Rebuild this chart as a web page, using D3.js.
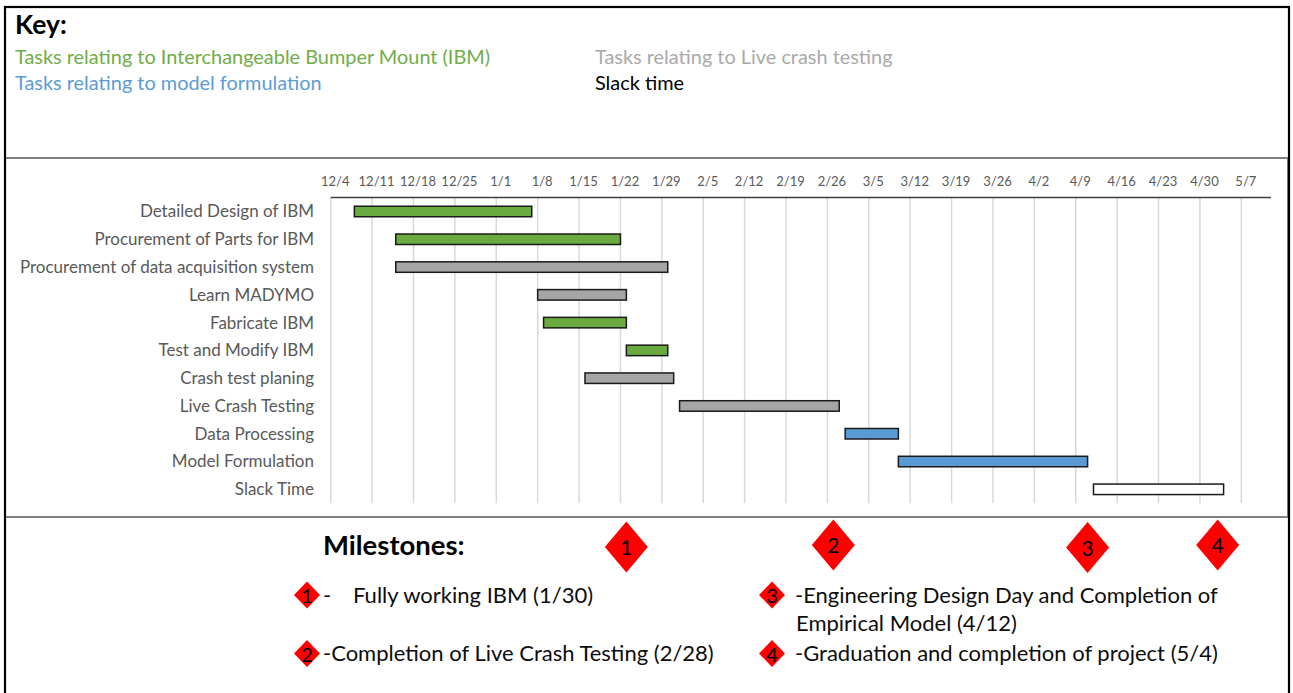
<!DOCTYPE html>
<html><head><meta charset="utf-8">
<script src="https://cdn.jsdelivr.net/npm/d3@7"></script>
<style>
body{margin:0;background:#fff}
svg{display:block;font-family:Lato, "Open Sans", sans-serif}
</style>
</head><body><svg id="c" width="1293" height="693"></svg>
<script>
// ---------- data ----------
const tasks = [
  "Detailed Design of IBM",
  "Procurement of Parts for IBM",
  "Procurement of data acquisition system",
  "Learn MADYMO",
  "Fabricate IBM",
  "Test and Modify IBM",
  "Crash test planing",
  "Live Crash Testing",
  "Data Processing",
  "Model Formulation",
  "Slack Time"
];
const taskStart = ["2017-12-08","2017-12-15","2017-12-15","2018-01-08","2018-01-09","2018-01-23","2018-01-16","2018-02-01","2018-03-01","2018-03-10","2018-04-12"];
const taskEnd   = ["2018-01-07","2018-01-22","2018-01-30","2018-01-23","2018-01-23","2018-01-30","2018-01-31","2018-02-28","2018-03-10","2018-04-11","2018-05-04"];
const taskGroup = ["ibm","ibm","crash","crash","ibm","ibm","crash","crash","model","model","slack"];
const tickLabels = ["12/4","12/11","12/18","12/25","1/1","1/8","1/15","1/22","1/29","2/5","2/12","2/19","2/26","3/5","3/12","3/19","3/26","4/2","4/9","4/16","4/23","4/30","5/7"];
const axisDomain = ["2017-12-04","2018-05-12"];
const keyGroups = ["ibm","model","crash","slack"];
const keyLabels = [
  "Tasks relating to Interchangeable Bumper Mount (IBM)",
  "Tasks relating to model formulation",
  "Tasks relating to Live crash testing",
  "Slack time"
];
const milestoneNumbers = ["1","2","3","4"];
const milestoneMarkerDates = ["2018-01-23","2018-02-27","2018-04-11","2018-05-03"];
const milestoneTexts = [
  ["-\tFully working IBM (1/30)"],
  ["-Completion of Live Crash Testing (2/28)"],
  ["-Engineering Design Day and Completion of", "Empirical Model (4/12)"],
  ["-Graduation and completion of project (5/4)"]
];

// ---------- styles ----------
const groupFill = {ibm:"#6aab3f", crash:"#a5a5a5", model:"#5b9bd5", slack:"#ffffff"};
const keyColor = {ibm:"#70ad47", crash:"#a9a9a9", model:"#5b9bd5", slack:"#000000"};

const parse = d3.utcParse("%Y-%m-%d");
const svg = d3.select("#c");

// frames
svg.append("rect").attr("x",5).attr("y",158).attr("width",1283).attr("height",359)
  .attr("fill","none").attr("stroke","#808080").attr("stroke-width",2);
svg.append("rect").attr("x",5).attr("y",7).attr("width",1284).attr("height",720)
  .attr("fill","none").attr("stroke","#000").attr("stroke-width",2.2);

// ---------- key ----------
svg.append("text").attr("x",15).attr("y",25).attr("dy","0.35em").attr("font-size",26.5).attr("font-weight","bold")
  .attr("fill","#000").text("Key:");
const keyCol = d3.scaleOrdinal().domain([0,1]).range([15,595]);
const keyRow = d3.scaleOrdinal().domain([0,1]).range([57,83]);
svg.append("g").selectAll("text").data(keyLabels).join("text")
  .attr("x",(d,i)=>keyCol(Math.floor(i/2)))
  .attr("y",(d,i)=>keyRow(i%2)).attr("dy","0.35em")
  .attr("font-size",19.9)
  .attr("fill",(d,i)=>keyColor[keyGroups[i]])
  .text(d=>d);

// ---------- chart ----------
const x = d3.scaleUtc().domain(axisDomain.map(parse)).range([330.7,1270.9]);
const y = d3.scaleBand().domain(tasks).range([197.6,503.2]);
const ticks = tickLabels.map((t,i)=>d3.utcDay.offset(parse(axisDomain[0]), 7*i));

// gridlines
svg.append("g").selectAll("line").data(ticks).join("line")
  .attr("x1",d=>x(d)).attr("x2",d=>x(d))
  .attr("y1",y.range()[0]).attr("y2",y.range()[1])
  .attr("stroke","#d9d9d9").attr("stroke-width",1.5);

// top axis
const axis = d3.axisTop(x).tickValues(ticks).tickSize(0).tickPadding(0)
  .tickFormat((d,i)=>tickLabels[i]);
const ag = svg.append("g").attr("transform",`translate(0,${y.range()[0]})`).call(axis);
ag.select(".domain").remove();
ag.selectAll("text").attr("font-family","Lato").attr("font-size",13).attr("fill","#595959")
  .attr("dx",4).attr("y",-16.5).attr("dy","0.35em");
svg.append("line").attr("x1",x.range()[0]).attr("x2",x.range()[1])
  .attr("y1",y.range()[0]).attr("y2",y.range()[0])
  .attr("stroke","#404040").attr("stroke-width",1.5);

// task labels
svg.append("g").selectAll("text").data(tasks).join("text")
  .attr("x",314).attr("y",d=>y(d)+y.bandwidth()/2).attr("dy","0.35em")
  .attr("text-anchor","end").attr("font-size",17).attr("fill","#595959")
  .text(d=>d);

// bars
const barH = 10.5;
svg.append("g").selectAll("rect").data(tasks).join("rect")
  .attr("x",(d,i)=>x(parse(taskStart[i])))
  .attr("width",(d,i)=>x(parse(taskEnd[i]))-x(parse(taskStart[i])))
  .attr("y",d=>y(d)+y.bandwidth()/2-barH/2)
  .attr("height",barH)
  .attr("fill",(d,i)=>groupFill[taskGroup[i]])
  .attr("stroke","#1a1a1a").attr("stroke-width",1.5);

// ---------- milestones ----------
svg.append("text").attr("x",323).attr("y",545).attr("dy","0.35em")
  .attr("font-size",27.5).attr("font-weight","bold").attr("fill","#000").text("Milestones:");

function diamond(g, cx, cy, w, h){
  g.append("path").attr("d",`M${cx},${cy-h/2}L${cx+w/2},${cy}L${cx},${cy+h/2}L${cx-w/2},${cy}Z`)
    .attr("fill","#ff0000");
}
const bigY = [547,545,547.5,545];
milestoneNumbers.forEach((n,i)=>{
  const g = svg.append("g");
  const cx = x(parse(milestoneMarkerDates[i]));
  diamond(g, cx, bigY[i], 43, 51);
  g.append("text").attr("x",cx).attr("y",bigY[i]+1).attr("dy","0.35em")
    .attr("text-anchor","middle").attr("font-size",21).attr("fill","#000").text(n);
});

const listCol = d3.scaleOrdinal().domain([0,1]).range([{d:307,t:323},{d:772,t:795}]);
const listRow = d3.scaleOrdinal().domain([0,1]).range([595,653.5]);
const lineGap = 28.5;
milestoneNumbers.forEach((n,i)=>{
  const col = listCol(i<2?0:1), row = listRow(i%2);
  const g = svg.append("g");
  diamond(g, col.d, row, 26, 27);
  g.append("text").attr("x",col.d).attr("y",row+1).attr("dy","0.35em")
    .attr("text-anchor","middle").attr("font-size",20).attr("fill","#000").text(n);
  milestoneTexts[i].forEach((line,k)=>{
    const t = g.append("text").attr("y",row+k*lineGap).attr("dy","0.35em")
      .attr("font-size",22).attr("fill","#0d0d0d");
    const parts = line.split("\t");
    t.append("tspan").attr("x",col.t + (k>0?1:0)).text(parts[0]);
    if(parts.length>1) t.append("tspan").attr("x",col.t+30).text(parts[1]);
  });
});
</script>
</body></html>
